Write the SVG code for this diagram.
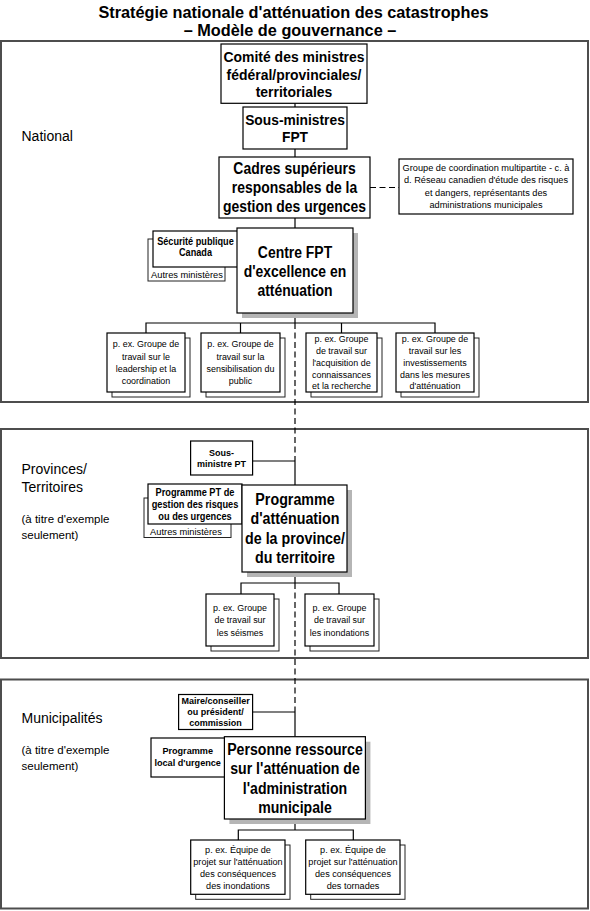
<svg xmlns="http://www.w3.org/2000/svg" width="590" height="911" viewBox="0 0 590 911">
<style>
text{font-family:"Liberation Sans",Arial,Helvetica,sans-serif;fill:#000}
.ti{font-size:16.3px;font-weight:bold;text-anchor:middle}
.lab{font-size:14px}
.lab2{font-size:11.5px}
.big{font-size:17px;font-weight:bold;text-anchor:middle}
.med{font-size:15px;font-weight:bold;text-anchor:middle}
.sb{font-size:9.5px;font-weight:bold;text-anchor:middle}
.sb10{font-size:10.5px;font-weight:bold;text-anchor:middle}
.sm{font-size:9.7px;text-anchor:middle}
.am{font-size:9.3px;text-anchor:middle}
.frame{fill:none;stroke:#4d4d4d;stroke-width:2}
.box{fill:#fff;stroke:#000;stroke-width:1.2}
.back{fill:#fff;stroke:#222;stroke-width:1}
.shadow{fill:#b5b5b5}
.ln{fill:none;stroke:#000;stroke-width:1.2}
.dash{fill:none;stroke:#000;stroke-width:1.2;stroke-dasharray:6 3.5}
</style>

<g id="title">
<text class="ti" x="293.5" y="17.8">Stratégie nationale d'atténuation des catastrophes</text>
<text class="ti" x="290" y="36.2">– Modèle de gouvernance –</text>
</g>

<g id="frames">
<rect id="frame-national" class="frame" x="1" y="41" width="587" height="361"/>
<rect id="frame-provinces" class="frame" x="1" y="429" width="587" height="229"/>
<rect id="frame-municipal" class="frame" x="1" y="679.5" width="587" height="229"/>
</g>

<g id="labels">
<text class="lab" x="21.5" y="141">National</text>
<text class="lab" x="21.5" y="474">Provinces/</text>
<text class="lab" x="21.5" y="492">Territoires</text>
<text class="lab2" x="21.5" y="522.5">(à titre d'exemple</text>
<text class="lab2" x="21.5" y="538.5">seulement)</text>
<text class="lab" x="21.5" y="723">Municipalités</text>
<text class="lab2" x="21.5" y="754">(à titre d'exemple</text>
<text class="lab2" x="21.5" y="770">seulement)</text>
</g>

<g id="connectors">
<line class="ln" x1="295" y1="103" x2="295" y2="107"/>
<line class="ln" x1="295" y1="149" x2="295" y2="157"/>
<line class="ln" x1="295" y1="218" x2="295" y2="228"/>
<line class="dash" x1="370" y1="187.5" x2="399" y2="187.5"/>
<line class="ln" x1="295" y1="313" x2="295" y2="323"/>
<polyline class="ln" points="146,333 146,323 435,323 435,333"/>
<line class="ln" x1="240.5" y1="323" x2="240.5" y2="333"/>
<line class="ln" x1="341.5" y1="323" x2="341.5" y2="333"/>
<line class="dash" x1="295" y1="323" x2="295" y2="461"/>
<line class="ln" x1="252.6" y1="461" x2="295" y2="461"/>
<line class="ln" x1="295" y1="461" x2="295" y2="485"/>
<line class="ln" x1="295" y1="572" x2="295" y2="583"/>
<polyline class="ln" points="241,594 241,583 339,583 339,594"/>
<line class="dash" x1="295" y1="583" x2="295" y2="712"/>
<line class="ln" x1="252.6" y1="712" x2="295" y2="712"/>
<line class="ln" x1="295" y1="712" x2="295" y2="736.7"/>
<line class="ln" x1="295" y1="819" x2="295" y2="830"/>
<polyline class="ln" points="238.3,840 238.3,830 353.3,830 353.3,840"/>
</g>

<g id="comite">
<rect class="box" x="221" y="44" width="146" height="59.3"/>
<g transform="matrix(0.93,0,0,1,20.58,0)">
<text class="med" x="294" y="62.5">Comité des ministres</text>
<text class="med" x="294" y="80">fédéral/provinciales/</text>
<text class="med" x="294" y="97.3">territoriales</text>
</g>
</g>

<g id="sous-ministres-fpt">
<rect class="box" x="243" y="107" width="104" height="42"/>
<g transform="matrix(0.92,0,0,1,23.6,0)">
<text class="med" x="295" y="124.8">Sous-ministres</text>
<text class="med" x="295" y="142.3">FPT</text>
</g>
</g>

<g id="cadres">
<rect class="box" x="219" y="157" width="151" height="61"/>
<g transform="matrix(0.82,0,0,1,53.01,0)">
<text class="big" x="294.5" y="174.5">Cadres supérieurs</text>
<text class="big" x="294.5" y="193.5">responsables de la</text>
<text class="big" x="294.5" y="212.5">gestion des urgences</text>
</g>
</g>

<g id="groupe-coordination">
<rect class="box" x="399" y="159" width="174" height="55"/>
<g transform="matrix(0.95,0,0,1,24.3,0)">
<text class="sm" x="486" y="171.2">Groupe de coordination multipartite - c. à</text>
<text class="sm" x="486" y="183.4">d. Réseau canadien d'étude des risques</text>
<text class="sm" x="486" y="195.6">et dangers, représentants des</text>
<text class="sm" x="486" y="207.8">administrations municipales</text>
</g>
</g>

<g id="autres-ministeres-national">
<rect class="back" x="148" y="239" width="77" height="42"/>
<text class="am" x="187" y="278.3">Autres ministères</text>
</g>

<g id="securite-publique">
<rect class="box" x="153" y="231" width="85" height="36"/>
<g transform="matrix(0.87,0,0,1,25.4,0)">
<text class="sb10" x="195.5" y="245">Sécurité publique</text>
<text class="sb10" x="195.5" y="256.5">Canada</text>
</g>
</g>

<g id="centre-fpt">
<rect class="shadow" x="242" y="233" width="116" height="85"/>
<rect class="box" x="237" y="228" width="116" height="85"/>
<g transform="matrix(0.82,0,0,1,53.1,0)">
<text class="big" x="295" y="258.5">Centre FPT</text>
<text class="big" x="295" y="277.5">d'excellence en</text>
<text class="big" x="295" y="296.5">atténuation</text>
</g>
</g>

<g id="gt-leadership">
<rect class="back" x="112" y="338" width="78" height="59"/>
<rect class="box" x="107" y="333" width="78" height="59"/>
<g transform="matrix(0.92,0,0,1,11.68,0)">
<text class="sm" x="146" y="347.4">p. ex. Groupe de</text>
<text class="sm" x="146" y="359.7">travail sur le</text>
<text class="sm" x="146" y="372">leadership et la</text>
<text class="sm" x="146" y="384.3">coordination</text>
</g>
</g>

<g id="gt-sensibilisation">
<rect class="back" x="206" y="338" width="79" height="59"/>
<rect class="box" x="201" y="333" width="79" height="59"/>
<g transform="matrix(0.92,0,0,1,19.24,0)">
<text class="sm" x="240.5" y="347.4">p. ex. Groupe de</text>
<text class="sm" x="240.5" y="359.7">travail sur la</text>
<text class="sm" x="240.5" y="372">sensibilisation du</text>
<text class="sm" x="240.5" y="384.3">public</text>
</g>
</g>

<g id="gt-connaissances">
<rect class="back" x="311" y="338" width="71" height="59"/>
<rect class="box" x="306" y="333" width="71" height="59"/>
<g transform="matrix(0.92,0,0,1,27.32,0)">
<text class="sm" x="341.5" y="342.4">p. ex. Groupe</text>
<text class="sm" x="341.5" y="354.2">de travail sur</text>
<text class="sm" x="341.5" y="365.9">l'acquisition de</text>
<text class="sm" x="341.5" y="377.7">connaissances</text>
<text class="sm" x="341.5" y="389.4">et la recherche</text>
</g>
</g>

<g id="gt-investissements">
<rect class="back" x="401" y="338" width="78" height="59"/>
<rect class="box" x="396" y="333" width="78" height="59"/>
<g transform="matrix(0.92,0,0,1,34.8,0)">
<text class="sm" x="435" y="342.4">p. ex. Groupe de</text>
<text class="sm" x="435" y="354.2">travail sur les</text>
<text class="sm" x="435" y="365.9">investissements</text>
<text class="sm" x="435" y="377.7">dans les mesures</text>
<text class="sm" x="435" y="389.4">d'atténuation</text>
</g>
</g>

<g id="sous-ministre-pt">
<rect class="box" x="190.6" y="441" width="62" height="34"/>
<g transform="matrix(0.95,0,0,1,11.08,0)">
<text class="sb" x="221.6" y="455.7">Sous-</text>
<text class="sb" x="221.6" y="467.5">ministre PT</text>
</g>
</g>

<g id="autres-ministeres-pt">
<rect class="back" x="144" y="498" width="87" height="39.5"/>
<text class="am" x="186" y="534.8">Autres ministères</text>
</g>

<g id="programme-pt">
<rect class="box" x="148" y="484" width="94" height="40"/>
<g transform="matrix(0.88,0,0,1,23.4,0)">
<text class="sb10" x="195" y="496.2">Programme PT de</text>
<text class="sb10" x="195" y="508">gestion des risques</text>
<text class="sb10" x="195" y="519.8">ou des urgences</text>
</g>
</g>

<g id="programme-attenuation-pt">
<rect class="shadow" x="247" y="490" width="105" height="87"/>
<rect class="box" x="242" y="485" width="105" height="87"/>
<g transform="matrix(0.84,0,0,1,47.2,0)">
<text class="big" x="295" y="505">Programme</text>
<text class="big" x="295" y="524.5">d'atténuation</text>
<text class="big" x="295" y="544">de la province/</text>
<text class="big" x="295" y="563.5">du territoire</text>
</g>
</g>

<g id="gt-seismes">
<rect class="back" x="211" y="599" width="68" height="52"/>
<rect class="box" x="206" y="594" width="68" height="52"/>
<g transform="matrix(0.92,0,0,1,19.2,0)">
<text class="sm" x="240" y="611">p. ex. Groupe</text>
<text class="sm" x="240" y="623.5">de travail sur</text>
<text class="sm" x="240" y="636">les séismes</text>
</g>
</g>

<g id="gt-inondations">
<rect class="back" x="310" y="599" width="69" height="52"/>
<rect class="box" x="305" y="594" width="69" height="52"/>
<g transform="matrix(0.92,0,0,1,27.16,0)">
<text class="sm" x="339.5" y="611">p. ex. Groupe</text>
<text class="sm" x="339.5" y="623.5">de travail sur</text>
<text class="sm" x="339.5" y="636">les inondations</text>
</g>
</g>

<g id="maire">
<rect class="box" x="178.6" y="694.5" width="74" height="35"/>
<g transform="matrix(0.95,0,0,1,10.78,0)">
<text class="sb" x="215.6" y="704">Maire/conseiller</text>
<text class="sb" x="215.6" y="715.3">ou président/</text>
<text class="sb" x="215.6" y="726.5">commission</text>
</g>
</g>

<g id="programme-local">
<rect class="box" x="151" y="738" width="74" height="39"/>
<g transform="matrix(0.96,0,0,1,7.5,0)">
<text class="sb" x="187.7" y="754">Programme</text>
<text class="sb" x="187.7" y="766.5">local d'urgence</text>
</g>
</g>

<g id="personne-ressource">
<rect class="shadow" x="229.4" y="741.7" width="141" height="82.3"/>
<rect class="box" x="224.4" y="736.7" width="141" height="82.3"/>
<g transform="matrix(0.83,0,0,1,50.15,0)">
<text class="big" x="295" y="755">Personne ressource</text>
<text class="big" x="295" y="774.5">sur l'atténuation de</text>
<text class="big" x="295" y="794">l'administration</text>
<text class="big" x="295" y="813.3">municipale</text>
</g>
</g>

<g id="ep-inondations">
<rect class="back" x="195.7" y="845" width="94.3" height="54.3"/>
<rect class="box" x="190.7" y="840" width="94.3" height="54.3"/>
<g transform="matrix(0.94,0,0,1,14.28,0)">
<text class="sm" x="238" y="852.6">p. ex. Équipe de</text>
<text class="sm" x="238" y="864.6">projet sur l'atténuation</text>
<text class="sm" x="238" y="876.6">des conséquences</text>
<text class="sm" x="238" y="888.6">des inondations</text>
</g>
</g>

<g id="ep-tornades">
<rect class="back" x="310.7" y="845" width="94.3" height="54.3"/>
<rect class="box" x="305.7" y="840" width="94.3" height="54.3"/>
<g transform="matrix(0.94,0,0,1,21.18,0)">
<text class="sm" x="353" y="852.6">p. ex. Équipe de</text>
<text class="sm" x="353" y="864.6">projet sur l'atténuation</text>
<text class="sm" x="353" y="876.6">des conséquences</text>
<text class="sm" x="353" y="888.6">des tornades</text>
</g>
</g>
</svg>
